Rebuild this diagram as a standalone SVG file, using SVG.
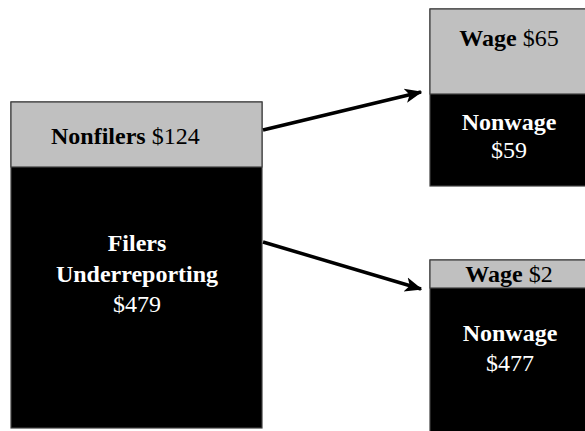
<svg xmlns="http://www.w3.org/2000/svg" width="585" height="431" viewBox="0 0 585 431">
<defs>
<style>
.t{font-family:"Liberation Serif","Times New Roman",serif;font-size:24px}
.b{font-weight:bold}
.w{fill:#ffffff}
.k{fill:#000000}
.g{fill:#c0c0c0;stroke:#404040;stroke-width:1.2}
.d{fill:#000000;stroke:#404040;stroke-width:1.2}
.c{stroke:#000000;stroke-width:3.5;fill:none}
</style>
<marker id="ah" viewBox="0 0 12 10" refX="11" refY="5" markerWidth="5" markerHeight="5" markerUnits="strokeWidth" orient="auto">
<path d="M0,0 L12,5 L0,10 L3,5 Z" fill="#000"/>
</marker>
</defs>
<rect width="585" height="431" fill="#ffffff"/>
<g id="left">
<rect class="d" x="11" y="102" width="251" height="326"/>
<rect class="g" x="11" y="102" width="251" height="65"/>
<text class="t k" x="51" y="144"><tspan class="b">Nonfilers</tspan> $124</text>
<text class="t w b" x="137" y="251" text-anchor="middle">Filers</text>
<text class="t w b" x="137" y="282" text-anchor="middle">Underreporting</text>
<text class="t w" x="137" y="312" text-anchor="middle">$479</text>
</g>
<g id="top-right">
<rect class="d" x="430" y="9" width="160" height="177"/>
<rect class="g" x="430" y="9" width="160" height="85"/>
<text class="t k" x="509" y="46" text-anchor="middle"><tspan class="b">Wage</tspan> $65</text>
<text class="t w b" x="509" y="130" text-anchor="middle">Nonwage</text>
<text class="t w" x="509" y="158" text-anchor="middle">$59</text>
</g>
<g id="bottom-right">
<rect class="d" x="430" y="260" width="160" height="180"/>
<rect class="g" x="430" y="260" width="160" height="28"/>
<text class="t k" x="509" y="282" text-anchor="middle"><tspan class="b">Wage</tspan> $2</text>
<text class="t w b" x="510" y="341" text-anchor="middle">Nonwage</text>
<text class="t w" x="510" y="371" text-anchor="middle">$477</text>
</g>
<g id="connectors">
<line class="c" x1="263" y1="130" x2="421" y2="92" marker-end="url(#ah)"/>
<line class="c" x1="263" y1="242" x2="421" y2="289" marker-end="url(#ah)"/>
</g>
</svg>
